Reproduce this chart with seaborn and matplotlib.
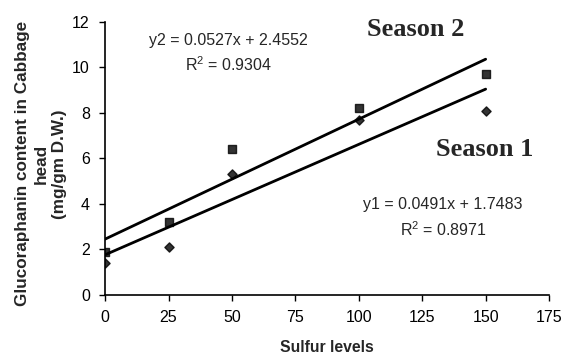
import numpy as np
import pandas as pd
import matplotlib
matplotlib.use('Agg')
import matplotlib.pyplot as plt
import seaborn as sns

# ── 데이터 ─────────────────────────────────────────────
sulfur   = [0, 25, 50, 100, 150]
season1  = [1.4, 2.1, 5.3, 7.7, 8.1]
season2  = [1.9, 3.2, 6.4, 8.2, 9.7]
x_ticks  = [0, 25, 50, 75, 100, 125, 150, 175]
y_ticks  = [0, 2, 4, 6, 8, 10, 12]

df1 = pd.DataFrame({'sulfur': sulfur, 'gr': season1})
df2 = pd.DataFrame({'sulfur': sulfur, 'gr': season2})

sns.set_style('ticks')
plt.rcParams['font.family'] = ['Liberation Sans', 'DejaVu Sans']
plt.rcParams['mathtext.fontset'] = 'custom'
plt.rcParams['mathtext.rm'] = 'Liberation Sans'

fig = plt.figure(figsize=(5.62, 3.58), dpi=100)
ax = fig.add_axes([0.187, 0.176, 0.79, 0.763])

sns.regplot(data=df1, x='sulfur', y='gr', ax=ax, ci=None, truncate=True,
            marker='D', color='black',
            scatter_kws={'s': 22, 'zorder': 3}, line_kws={'lw': 2})
sns.regplot(data=df2, x='sulfur', y='gr', ax=ax, ci=None, truncate=True,
            marker='s', color='black',
            scatter_kws={'s': 28, 'zorder': 3}, line_kws={'lw': 2})

ax.set_xlim(0, 175)
ax.set_ylim(0, 12)
ax.set_xticks(x_ticks)
ax.set_yticks(y_ticks)
ax.tick_params(labelsize=11.5, length=4, width=1, colors='black', pad=7)
for s in ['left', 'bottom']:
    ax.spines[s].set_color('black')
    ax.spines[s].set_linewidth(1.2)
sns.despine(ax=ax)

ax.set_xlabel('Sulfur levels', fontsize=11.3, fontweight='bold')
ax.xaxis.set_label_coords(0.5, -0.165)
ax.set_ylabel('Glucoraphanin content in Cabbage\nhead\n(mg/gm D.W.)',
              fontsize=12.3, fontweight='bold', linespacing=1.3)
ax.yaxis.set_label_coords(-0.086, 0.48)

# 회귀식 / 계절 라벨
ax.text(48.5, 11.2, 'y2 = 0.0527x + 2.4552', ha='center', va='center', fontsize=11.5)
ax.text(48.5, 10.1, 'R$^2$ = 0.9304', ha='center', va='center', fontsize=11.5)
ax.text(133.2, 3.96, 'y1 = 0.0491x + 1.7483', ha='center', va='center', fontsize=11.5)
ax.text(133.2, 2.86, 'R$^2$ = 0.8971', ha='center', va='center', fontsize=11.5)
ax.text(122.6, 11.65, 'Season 2', ha='center', va='center', fontsize=19,
        fontweight='bold', family='Liberation Serif')
ax.text(149.8, 6.37, 'Season 1', ha='center', va='center', fontsize=19,
        fontweight='bold', family='Liberation Serif')

plt.savefig('out.png', dpi=100)
